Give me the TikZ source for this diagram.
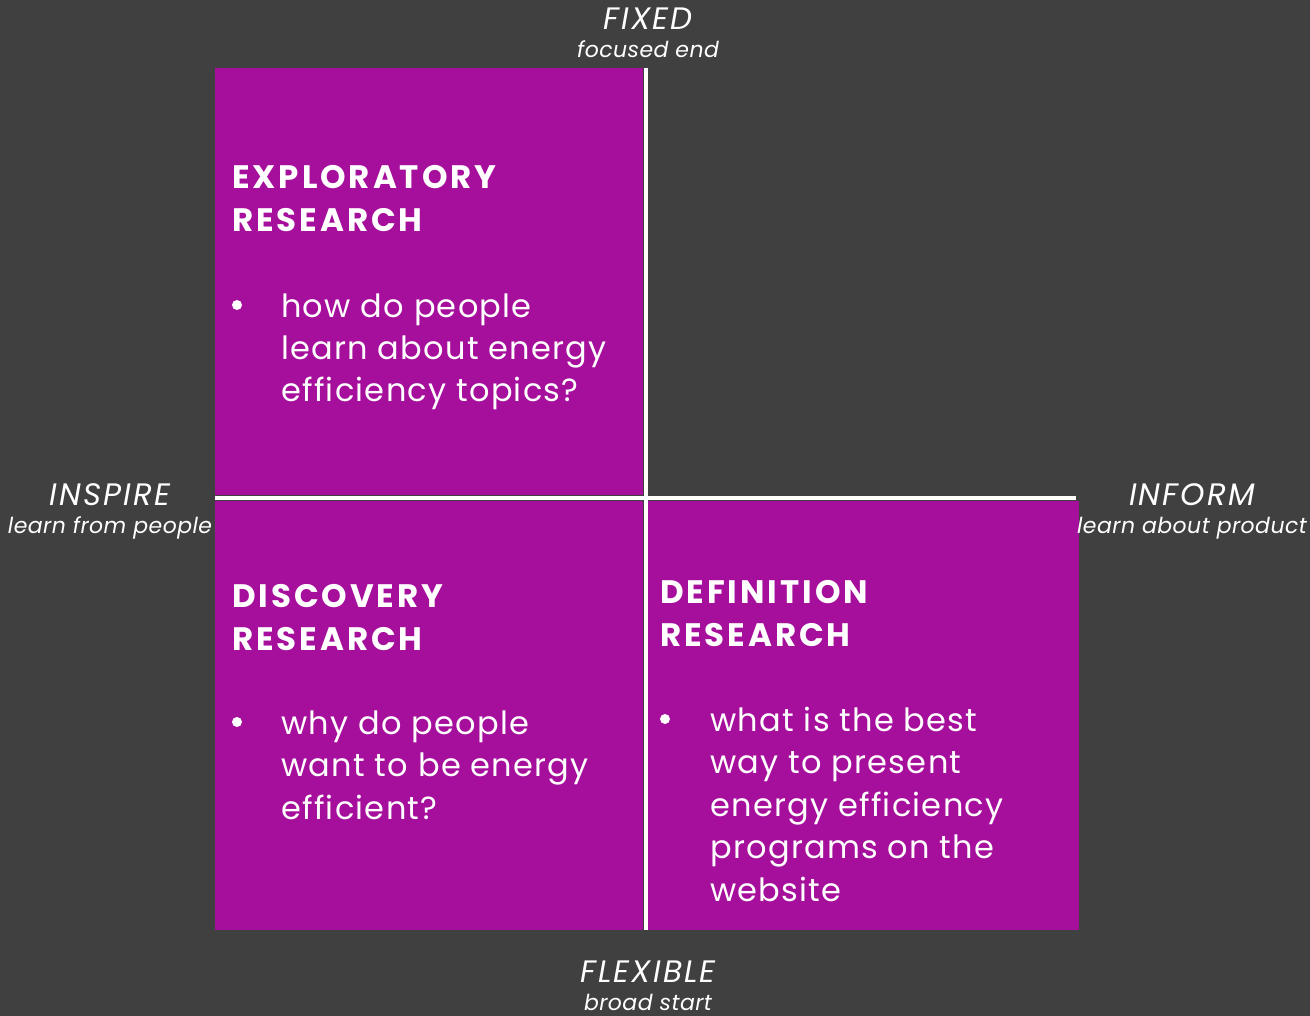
\documentclass[tikz,border=0pt]{standalone}
\usepackage{fontspec}
\setmainfont{Poppins}
\newfontfamily\quadfont{Poppins}[LetterSpace=4]
\newfontfamily\headfont{Poppins}[LetterSpace=9]
\newfontfamily\axisfont{Poppins}[LetterSpace=7]
\newfontfamily\subfont{Poppins}[LetterSpace=2]
\definecolor{bgdark}{RGB}{64,64,64}
\definecolor{quadpurple}{RGB}{166,14,156}
\tikzset{
  quad/.style={fill=quadpurple},
  divider/.style={draw=white, line width=4pt},
  % multi-line nodes sit on the baseline of their last line
  qhead/.style={anchor=base west, align=left, inner sep=0pt, text=white,
    font=\headfont\bfseries\fontsize{32.5}{43}\selectfont},
  qitem/.style={anchor=base west, align=left, inner sep=0pt, text=white,
    font=\quadfont\fontsize{32}{42.5}\selectfont},
  qdot/.style={circle, fill=white, inner sep=0pt, minimum size=10pt},
  axis/.style={anchor=base, inner sep=0pt, text=white, font=\axisfont\itshape\fontsize{31}{32}\selectfont},
  axissub/.style={anchor=base, inner sep=0pt, text=white, font=\subfont\itshape\fontsize{22}{24}\selectfont},
}
\begin{document}
\begin{tikzpicture}[x=1pt, y=-1pt]
  % background
  \fill[bgdark] (0,0) rectangle (1310,1016);
  \useasboundingbox (0,0) rectangle (1310,1016);

  % the three filled quadrants
  \fill[quad] (215,68) rectangle (643,495);
  \fill[quad] (215,501) rectangle (643,930);
  \fill[quad] (648,501) rectangle (1079,930);

  % axes
  \coordinate (top) at (645.5,68);
  \coordinate (bottom) at (645.5,930);
  \coordinate (left) at (215,498);
  \coordinate (right) at (1076,498);
  \draw[divider] (top) -- (bottom);
  \draw[divider] (left) -- (right);

  % axis labels
  \node[axis] (fixed) at (648,30) {FIXED};
  \node[axissub] (fixedsub) at (648,58) {focused end};
  \node[axis] (flex) at (648,982) {FLEXIBLE};
  \node[axissub] (flexsub) at (648,1010) {broad start};
  \node[axis] (inspire) at (110,505) {INSPIRE};
  \node[axissub] (inspiresub) at (110,533) {learn from people};
  \node[axis] (inform) at (1192,505) {INFORM};
  \node[axissub] (informsub) at (1192,533) {learn about product};

  % exploratory
  \node[qhead] (explh) at (232,232) {EXPLORATORY\\RESEARCH};
  \node[qdot] (expld) at (237,305) {};
  \node[qitem] (expli) at (281,402) {how do people\\learn about energy\\efficiency topics?};

  % discovery
  \node[qhead] (disch) at (232,650) {DISCOVERY\\RESEARCH};
  \node[qdot] (discd) at (237,722) {};
  \node[qitem] (disci) at (281,819) {why do people\\want to be energy\\efficient?};

  % definition
  \node[qhead] (defh) at (660,646) {DEFINITION\\RESEARCH};
  \node[qdot] (defd) at (665,719) {};
  \node[qitem] (defi) at (710,901) {what is the best\\way to present\\energy efficiency\\programs on the\\website};
\end{tikzpicture}
\end{document}
